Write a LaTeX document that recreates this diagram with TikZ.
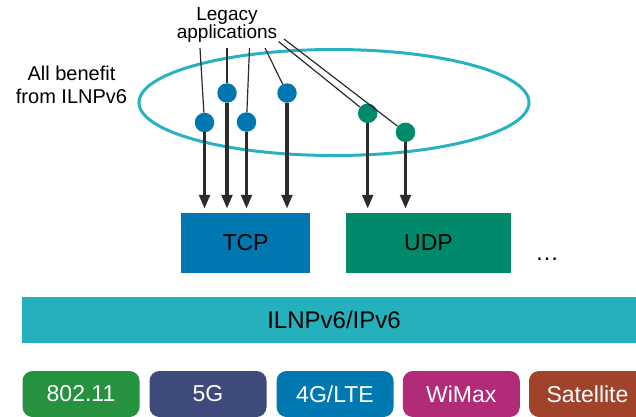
\documentclass[tikz,border=0pt]{standalone}
\usepackage{fontspec}
\setmainfont{Liberation Sans}
\usetikzlibrary{arrows.meta,shapes.geometric}
\definecolor{ellteal}{RGB}{38,178,192}
\definecolor{barteal}{RGB}{36,177,189}
\definecolor{tcpblue}{RGB}{0,119,176}
\definecolor{udpgreen}{RGB}{0,137,106}
\definecolor{wifigreen}{RGB}{38,145,62}
\definecolor{fivegblue}{RGB}{62,74,122}
\definecolor{lteblue}{RGB}{0,121,178}
\definecolor{wimaxpink}{RGB}{178,43,120}
\definecolor{satred}{RGB}{160,67,42}
\definecolor{arrdark}{RGB}{43,43,43}
\tikzset{
  appdot/.style={circle,inner sep=0pt,minimum size=19.5pt},
  bluedot/.style={appdot,fill=tcpblue},
  greendot/.style={appdot,fill=udpgreen},
  thinline/.style={draw=arrdark,line width=1.2pt},
  downarrow/.style={draw=arrdark,line width=3.5pt,-{Triangle[length=14pt,width=10.5pt]},shorten >=4pt},
  protobox/.style={rectangle,inner sep=0pt,minimum height=60pt,font=\fontsize{23}{27}\selectfont,text=black},
  linkbox/.style={rectangle,rounded corners=10pt,inner sep=0pt,minimum width=117pt,minimum height=46pt,font=\fontsize{23}{27}\selectfont,text=white},
}
\begin{document}
\begin{tikzpicture}[x=1pt,y=-1pt]
\useasboundingbox (0,0) rectangle (636,416);
\clip (0,0) rectangle (636,416);

% ellipse
\draw[ellteal,line width=3pt] (334,102.5) ellipse [x radius=195pt, y radius=53pt];

% labels
\node[anchor=north,inner sep=0pt,align=center,font=\fontsize{19}{18}\selectfont] (legacy) at (227,7.3) {Legacy\\applications};
\node[anchor=north,inner sep=0pt,align=center,font=\fontsize{20}{22.8}\selectfont] (benefit) at (71.5,65.9) {All benefit\\from ILNPv6};

% boxes
\node[protobox,fill=tcpblue,minimum width=129pt] (tcp) at (245.5,243) {TCP};
\node[protobox,fill=udpgreen,minimum width=165pt] (udp) at (428.5,243) {UDP};
\node[anchor=base,inner sep=0pt,font=\fontsize{24}{28}\selectfont] (more) at (547,260.5) {…};

\node[rectangle,fill=barteal,inner sep=0pt,minimum width=624pt,minimum height=46pt,font=\fontsize{24}{28}\selectfont,text=black] (ilnp) at (334,320) {ILNPv6/IPv6};

\node[linkbox,fill=wifigreen] (wifi) at (81,394) {802.11};
\node[linkbox,fill=fivegblue] (fiveg) at (208,394) {5G};
\node[linkbox,fill=lteblue] (lte) at (335,394) {4G/LTE};
\node[linkbox,fill=wimaxpink] (wimax) at (461.3,394) {WiMax};
\node[linkbox,fill=satred] (sat) at (587.5,394) {Satellite};

% dots
\node[bluedot] (b1) at (204.5,122.5) {};
\node[bluedot] (b2) at (227,93) {};
\node[bluedot] (b3) at (246.5,122) {};
\node[bluedot] (b4) at (287,93) {};
\node[greendot] (g1) at (367.7,113.3) {};
\node[greendot] (g2) at (405.5,132.3) {};

% label leader lines
\coordinate (l1) at (200,48);
\coordinate (l2) at (227,48);
\coordinate (l3) at (249.5,48);
\coordinate (l4) at (265,48);
\coordinate (l5) at (278.5,41.5);
\coordinate (l6) at (284,39);
\draw[thinline] (l1) -- (b1);
\draw[thinline] (l2) -- (b2);
\draw[thinline] (l3) -- (b3);
\draw[thinline] (l4) -- (b4);
\draw[thinline] (l5) -- (g1);
\draw[thinline] (l6) -- (g2);

% arrows
\draw[downarrow] (b1) -- (b1 |- tcp.north);
\draw[downarrow] (b2) -- (b2 |- tcp.north);
\draw[downarrow] (b3) -- (b3 |- tcp.north);
\draw[downarrow] (b4) -- (b4 |- tcp.north);
\draw[downarrow] (g1) -- (g1 |- udp.north);
\draw[downarrow] (g2) -- (g2 |- udp.north);
\end{tikzpicture}
\end{document}
